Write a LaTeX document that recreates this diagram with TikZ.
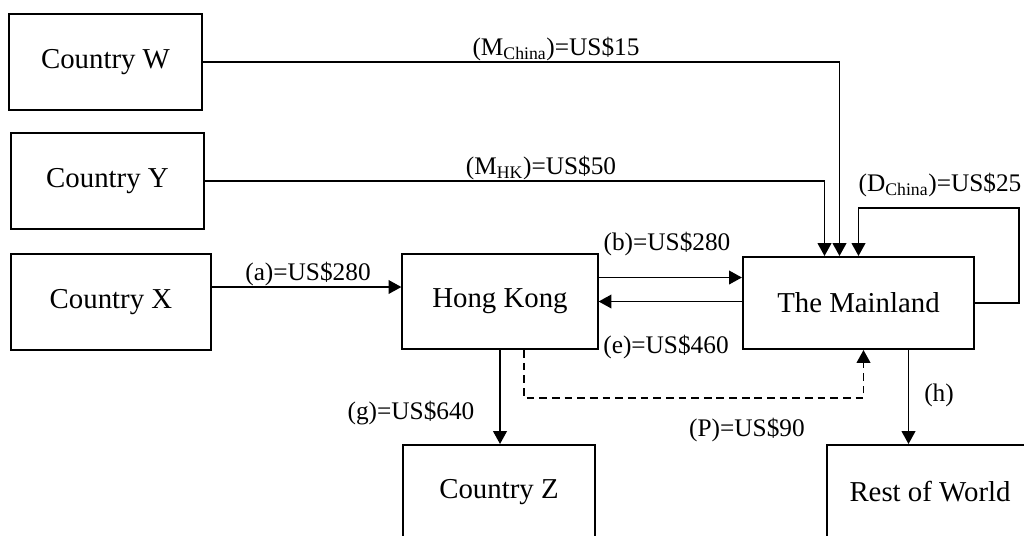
\documentclass[tikz,border=0pt]{standalone}
\usepackage{fontspec}
\setmainfont{Liberation Serif}
\usetikzlibrary{arrows.meta,calc}

\begin{document}
\begin{tikzpicture}[x=0.025cm,y=-0.025cm,
  box/.style={draw,line width=1.4pt,inner sep=0pt,
              font=\fontsize{20.5}{24}\selectfont},
  lbl/.style={inner sep=0pt,font=\fontsize{18}{21}\selectfont},
  arr/.style={line width=1.2pt,-{Triangle[length=0.32cm,width=0.34cm]}}
]
% y axis points down, one unit per pixel
\clip (0,0) rectangle (1024,535);

% ---- Boxes --------------------------------------------------
\node[box,minimum width=4.83cm,minimum height=2.4cm]  (cw) at (105.5,62)  {Country W};
\node[box,minimum width=4.83cm,minimum height=2.4cm]  (cy) at (107.5,181) {Country Y};
\node[box,minimum width=5cm,minimum height=2.4cm]     (cx) at (111,302)   {Country X};
\node[box,minimum width=4.88cm,minimum height=2.38cm] (hk) at (500,301.5) {Hong Kong};
\node[box,minimum width=5.78cm,minimum height=2.3cm]  (ml) at (858.5,303) {The Mainland};
\node[box,minimum width=4.8cm,minimum height=2.35cm]  (cz) at (499,492)   {Country Z};
\node[box,minimum width=5.15cm,minimum height=2.35cm] (rw) at (930,492)   {Rest of World};

% ---- Flows into the Mainland --------------------------------
\draw[arr] (cw.east) -| ($(ml.north)+(-19,0)$);
\draw[arr] (cy.east) -| ($(ml.north)+(-34,0)$);
\draw[arr] (ml.east) -- ++(44,0) |- ($(ml.north)+(0,-48)$) -- (ml.north);

% ---- Hong Kong links ----------------------------------------
\coordinate (a0) at ($(cx.east)+(0,-15)$);
\draw[arr] (a0) -- (a0 -| hk.west);
\coordinate (b0) at ($(hk.east)+(0,-24)$);
\draw[arr] (b0) -- (b0 -| ml.west);
\draw[arr] (hk.east -| ml.west) -- (hk.east);
\draw[arr] (hk.south) -- (hk.south |- cz.north);

% dashed processing flow
\coordinate (p0) at ($(hk.south)+(24,0)$);
\coordinate (p1) at ($(ml.south)+(5,0)$);
\draw[arr,dashed,dash pattern=on 5.5pt off 3.5pt] (p0) -- ++(0,48) -| (p1);

% Mainland exports
\coordinate (h0) at ($(ml.south)+(50,0)$);
\draw[arr] (h0) -- (h0 |- rw.north);

% ---- Labels -------------------------------------------------
\node[lbl] (lmc) at (556,49)  {(M\textsubscript{China})=US\$15};
\node[lbl] (lmh) at (541,168) {(M\textsubscript{HK})=US\$50};
\node[lbl] (ldc) at (940,185) {(D\textsubscript{China})=US\$25};
\node[lbl] (la)  at (308,274) {(a)=US\$280};
\node[lbl] (lb)  at (667,244) {(b)=US\$280};
\node[lbl] (le)  at (666,347) {(e)=US\$460};
\node[lbl] (lg)  at (411,413) {(g)=US\$640};
\node[lbl] (lp)  at (747,430) {(P)=US\$90};
\node[lbl] (lh)  at (939,395) {(h)};

\end{tikzpicture}
\end{document}
